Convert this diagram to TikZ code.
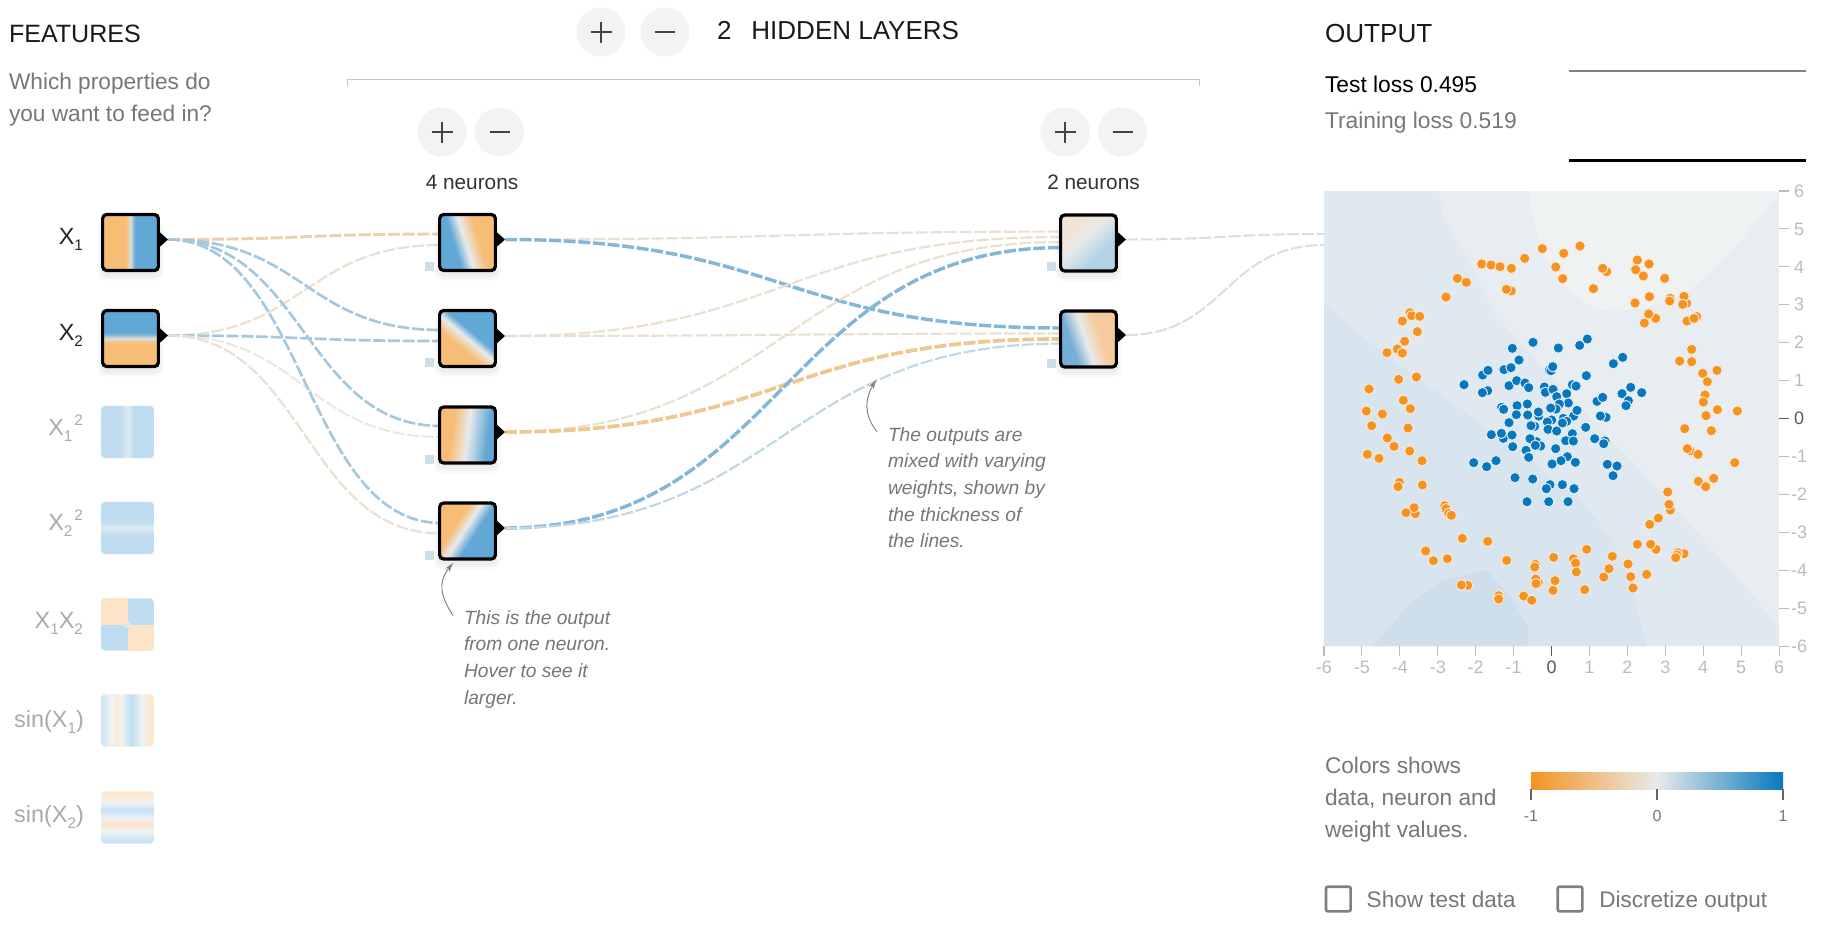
\documentclass[tikz,border=0pt]{standalone}
\usepackage{fontspec}
\setmainfont{Liberation Sans}
\usetikzlibrary{arrows.meta,calc,shapes.geometric}
\definecolor{no}{HTML}{F7BD76}
\definecolor{nb}{HTML}{62A8D6}
\definecolor{np}{HTML}{E8EAEB}
\definecolor{npx}{HTML}{DCDDD8}
\definecolor{fb}{HTML}{C0DCF0}
\definecolor{fp}{HTML}{DFEAF1}
\definecolor{fo}{HTML}{FDE3C7}
\definecolor{fw}{HTML}{EEF3F5}
\definecolor{la}{HTML}{F1E3D5}
\definecolor{lb}{HTML}{B3D2E6}
\definecolor{lc}{HTML}{75AED7}
\definecolor{ld}{HTML}{F6CB9C}
\definecolor{dotO}{HTML}{F59322}
\definecolor{dotB}{HTML}{0877BD}
\definecolor{txtg}{HTML}{777777}
\definecolor{fade}{HTML}{AAAAAA}
\definecolor{tick}{HTML}{BBBBBB}
\definecolor{btn}{HTML}{F3F3F3}
\definecolor{icon}{HTML}{444444}
\definecolor{wTan}{HTML}{EBDFD0}
\definecolor{wPale}{HTML}{E9E6E0}
\definecolor{wOrange}{HTML}{EECFAB}
\definecolor{wOrangeB}{HTML}{EEC791}
\definecolor{wBlue}{HTML}{A4C8E0}
\definecolor{wBlueB}{HTML}{84B6D8}
\definecolor{wSky}{HTML}{C0D7E6}
\definecolor{wMist}{HTML}{D2E0EA}
\definecolor{sq}{HTML}{CFDDE7}
\definecolor{pbase}{HTML}{E8EDF1}
\definecolor{ptop}{HTML}{EFF2F3}
\definecolor{pb}{HTML}{E0E9EF}
\definecolor{pa}{HTML}{D8E5EF}
\definecolor{pc}{HTML}{CEDFEB}
\pgfdeclarehorizontalshading{sxa}{100bp}{color(0bp)=(no);color(45.5bp)=(no);color(50bp)=(npx);color(54bp)=(nb);color(100bp)=(nb)}
\pgfdeclarehorizontalshading{sxb}{100bp}{color(0bp)=(no);color(46bp)=(no);color(50bp)=(npx);color(55bp)=(nb);color(100bp)=(nb)}
\pgfdeclarehorizontalshading{sha}{100bp}{color(0bp)=(nb);color(38bp)=(nb);color(48bp)=(np);color(60bp)=(no);color(100bp)=(no)}
\pgfdeclarehorizontalshading{shb}{100bp}{color(0bp)=(no);color(40bp)=(no);color(50bp)=(np);color(57bp)=(nb);color(100bp)=(nb)}
\pgfdeclarehorizontalshading{shc}{100bp}{color(0bp)=(no);color(36bp)=(no);color(50bp)=(np);color(68bp)=(nb);color(100bp)=(nb)}
\pgfdeclarehorizontalshading{shd}{100bp}{color(0bp)=(no);color(38bp)=(no);color(47bp)=(np);color(57bp)=(nb);color(100bp)=(nb)}
\pgfdeclarehorizontalshading{sla}{100bp}{color(0bp)=(la);color(32bp)=(la);color(44bp)=(np);color(64bp)=(lb);color(100bp)=(lb)}
\pgfdeclarehorizontalshading{slb}{100bp}{color(0bp)=(lc);color(34bp)=(lc);color(47bp)=(np);color(60bp)=(ld);color(100bp)=(ld)}
\pgfdeclarehorizontalshading{ssq}{100bp}{color(0bp)=(fb);color(43.5bp)=(fb);color(50bp)=(fp);color(56bp)=(fb);color(100bp)=(fb)}
\pgfdeclarehorizontalshading{ssa}{100bp}{color(0bp)=(fb!80!white);color(25bp)=(fb!80!white);color(35bp)=(fw);color(40bp)=(fo!80!white);color(44.5bp)=(fw);color(54bp)=(fb);color(63.6bp)=(fw);color(70.8bp)=(fo!85!white);color(100bp)=(fo!85!white)}
\pgfdeclarehorizontalshading{ssb}{100bp}{color(0bp)=(fb!80!white);color(29bp)=(fb!80!white);color(37bp)=(fw);color(44.5bp)=(fo);color(49bp)=(fw);color(57bp)=(fb!90!white);color(64bp)=(fw);color(71.5bp)=(fo!85!white);color(100bp)=(fo!85!white)}
\pgfdeclarehorizontalshading{slegend}{100bp}{color(0bp)=(dotO);color(25bp)=(dotO);color(50bp)=(np);color(75bp)=(dotB);color(100bp)=(dotB)}
\newcommand\lnk[3]{\draw[linkline,#1] let \p1=(#2),\p2=(#3),\n1={0.5*\x1+0.5*\x2} in (\p1) .. controls (\n1,\y1) and (\n1,\y2) .. (\p2);}
\newcommand\subn[1]{\raisebox{-4.5pt}{\fontsize{11.5pt}{12pt}\selectfont #1}}
\newcommand\supn[1]{\raisebox{7.5pt}{\fontsize{11.5pt}{12pt}\selectfont #1}}
\newcommand\sqport[2]{\fill[sq] (#1-4.5,#2-4.5) rectangle ++(9,9);}
\newcommand\tip[1]{\fill[black] (#1) -- ++(-9,-8) -- ++(0,16) -- cycle;}
\newcommand\pmbtn[4]{%
  \node[roundbtn] (#1p) at (#2,#3) {};
  \node[roundbtn] (#1m) at (#2+#4,#3) {};
  \draw[iconline] ($(#1p)+(-10.5,0)$) -- ($(#1p)+(10.5,0)$);
  \draw[iconline] ($(#1p)+(0,-10.5)$) -- ($(#1p)+(0,10.5)$);
  \draw[iconline] ($(#1m)+(-10,0)$) -- ($(#1m)+(10,0)$);}
\pgfdeclarelayer{links}
\pgfsetlayers{links,main}
\tikzset{
  every node/.style={inner sep=0pt,outer sep=0pt},
  hugetxt/.style={font=\fontsize{18.8pt}{22pt}\selectfont,text=black!90},
  greytxt/.style={font=\fontsize{17pt}{24pt}\selectfont,text=txtg,align=left},
  neurtxt/.style={font=\fontsize{15.6pt}{18pt}\selectfont,text=black!80},
  notetxt/.style={font=\fontsize{14.4pt}{20pt}\itshape\selectfont,text=txtg,align=left},
  losstxt/.style={font=\fontsize{17.1pt}{20pt}\selectfont},
  rowlab/.style={font=\fontsize{17.6pt}{20pt}\selectfont,text=black!85,anchor=mid east},
  rowfade/.style={rowlab,text=fade},
  axistxt/.style={font=\fontsize{13.5pt}{15pt}\selectfont,text=tick},
  legendtxt/.style={font=\fontsize{12pt}{14pt}\selectfont,text=txtg},
  checktxt/.style={font=\fontsize{16.9pt}{20pt}\selectfont,text=txtg,anchor=mid west},
  roundbtn/.style={circle,fill=btn,minimum size=36.8pt},
  iconline/.style={draw=icon,line width=2pt},
  neuronbox/.style={rectangle,draw=black,line width=2.4pt,rounded corners=3pt,minimum width=41.8pt,minimum height=42pt},
  fadebox/.style={rectangle,rounded corners=3pt,minimum width=39.6pt,minimum height=39.2pt},
  linkline/.style={dash pattern=on 9pt off 2pt},
  wt/.style={draw=wTan,line width=1.6pt},
  wp/.style={draw=wPale,line width=1.4pt},
  wo/.style={draw=wOrange,line width=2.2pt},
  wob/.style={draw=wOrangeB,line width=2.8pt},
  wb/.style={draw=wBlue,line width=2pt},
  wbb/.style={draw=wBlueB,line width=2.6pt},
  ws/.style={draw=wSky,line width=1.6pt},
  wm/.style={draw=wMist,line width=1.5pt},
  noteline/.style={draw=black!50,line width=0.7pt,-{Stealth[length=7pt,width=4pt]}},
  rule/.style={draw=black!22,line width=0.7pt},
  dotor/.style={fill=dotO,draw=white!80!dotO,line width=0.7pt},
  dotbl/.style={fill=dotB,draw=white!88!dotB,line width=0.7pt},
  checkbox/.style={rectangle,draw=black!50,line width=2pt,rounded corners=1.5pt,minimum size=18.5pt},
}
\begin{document}
\begin{tikzpicture}[x=0.75pt,y=-0.75pt]
\useasboundingbox (0,0) rectangle (1826,929);
\begin{pgfonlayer}{links}
\fill[white] (0,0) rectangle (1826,929);
\end{pgfonlayer}
% headers
\node[hugetxt,anchor=mid west] (featT) at (9,38.5) {FEATURES};
\node[greytxt,anchor=north west] (featS) at (9,73.5) {Which properties do\\you want to feed in?};
\pmbtn{lay}{601}{32}{64}
\node[hugetxt,font=\fontsize{19.5pt}{22pt}\selectfont,anchor=mid west] (hlT) at (717,36) {2\hspace{15pt}HIDDEN LAYERS};
\draw[rule] (347,86) -- (347,79) -- (1199,79) -- (1199,86);
\pmbtn{a}{442}{132}{57.5}
\pmbtn{b}{1065}{132}{57.5}
\node[neurtxt] (na) at (472,182) {4 neurons};
\node[neurtxt] (nb) at (1093.5,182) {2 neurons};
% shadows
\foreach \cx/\cy in {130.5/242.5,130.5/338.5,467.5/242.5,467.5/338.5,467.5/435,467.5/531,1088.5/243,1088.5/339}{
  \foreach \g in {6,4,2}{
    \fill[black,opacity=0.025,rounded corners=5pt] (\cx-27-\g,\cy-20) rectangle (\cx+27+\g,\cy+32+\g);
  }
}
% input nodes
\node[neuronbox,shading=sxa] (X1) at (130.5,242.5) {};
\node[neuronbox,shading=sxb,shading angle=90] (X2) at (130.5,338.5) {};
\node[fadebox,shading=ssq] (XA) at (127.5,432) {};
\node[fadebox,shading=ssq,shading angle=90] (XB) at (127.5,528) {};
\node[fadebox,fill=fb] (XC) at (127.5,624.5) {};
\begin{scope}
  \clip[rounded corners=3pt] (101,598) rectangle (154,651);
  \fill[fo] (101,598) rectangle (127.5,624.5);
  \fill[fo] (127.5,624.5) rectangle (154,651);
  \fill[fp,opacity=.8] (127.5,624.5) circle[radius=4];
\end{scope}
\node[fadebox,shading=ssa] (XD) at (127.5,720.5) {};
\node[fadebox,shading=ssb,shading angle=90] (XE) at (127.5,817.5) {};
% hidden nodes
\node[neuronbox,shading=sha,shading angle=17] (h1) at (467.5,242.5) {};
\node[neuronbox,shading=shb,shading angle=50] (h2) at (467.5,338.5) {};
\node[neuronbox,shading=shc,shading angle=-7] (h3) at (467.5,435) {};
\node[neuronbox,shading=shd,shading angle=-33] (h4) at (467.5,531) {};
\node[neuronbox,shading=sla,shading angle=-47] (ka) at (1088.5,243) {};
\node[neuronbox,shading=slb,shading angle=19] (kb) at (1088.5,339) {};
% ports
\coordinate (X1o) at (168,239.5);
\coordinate (X2o) at (168,335.5);
\coordinate (h1o) at (505,239.5);
\coordinate (h2o) at (505,336);
\coordinate (h3o) at (505,432);
\coordinate (h4o) at (505,528);
\coordinate (kao) at (1126,239.5);
\coordinate (kbo) at (1126,335);
\tip{X1o}\tip{X2o}\tip{h1o}\tip{h2o}\tip{h3o}\tip{h4o}\tip{kao}\tip{kbo}
\coordinate (h1a) at (441,234);\coordinate (h1b) at (441,245);
\coordinate (h2a) at (441,330);\coordinate (h2b) at (441,341);
\coordinate (h3a) at (441,426);\coordinate (h3b) at (441,437);
\coordinate (h4a) at (441,523);\coordinate (h4b) at (441,533.5);
\coordinate (kaa) at (1061,231.6);\coordinate (kab) at (1061,237);\coordinate (kac) at (1061,242);\coordinate (kad) at (1061,247.6);
\coordinate (kba) at (1061,328);\coordinate (kbb) at (1061,333.5);\coordinate (kbc) at (1061,339);\coordinate (kbd) at (1061,343.6);
\coordinate (outa) at (1324,234);\coordinate (outb) at (1324,245);
\begin{pgfonlayer}{links}
\lnk{wo}{X1o}{h1a}
\lnk{wt}{X2o}{h1b}
\lnk{wb}{X1o}{h2a}
\lnk{wb}{X2o}{h2b}
\lnk{wb}{X1o}{h3a}
\lnk{wp}{X2o}{h3b}
\lnk{wb}{X1o}{h4a}
\lnk{wt}{X2o}{h4b}
\lnk{wt}{h1o}{kaa}
\lnk{wbb}{h1o}{kba}
\lnk{wt}{h2o}{kab}
\lnk{wt}{h2o}{kbb}
\lnk{wt}{h3o}{kac}
\lnk{wob}{h3o}{kbc}
\lnk{wbb}{h4o}{kad}
\lnk{ws}{h4o}{kbd}
\lnk{wm}{kao}{outa}
\lnk{wm}{kbo}{outb}
\end{pgfonlayer}
% bias squares
\sqport{429.5}{266.5}\sqport{429.5}{362.5}\sqport{429.5}{459}\sqport{429.5}{555}
\sqport{1051}{266.5}\sqport{1051}{363}
% row labels
\node[rowlab] (lX1) at (83,240.5) {X\subn{1}};
\node[rowlab] (lX2) at (83,337) {X\subn{2}};
\node[rowfade] (lXA) at (83,432) {X\subn{1}\hspace{1.5pt}\supn{2}};
\node[rowfade] (lXB) at (83,527) {X\subn{2}\hspace{1.5pt}\supn{2}};
\node[rowfade] (lXC) at (83,625) {X\subn{1}X\subn{2}};
\node[rowfade] (lXD) at (84,723.5) {sin(X\subn{1})};
\node[rowfade] (lXE) at (84,818.5) {sin(X\subn{2})};
% notes
\node[notetxt,anchor=north west] (noteA) at (464,610.3) {This is the output\\from one neuron.\\Hover to see it\\larger.};
\coordinate (nAs) at (453,615.5);
\coordinate (nAt) at (453,563);
\draw[noteline] (nAs) .. controls (441,597) and (437,583) .. (nAt);
\node[notetxt,anchor=north west] (noteB) at (888,427.3) {The outputs are\\mixed with varying\\weights, shown by\\the thickness of\\the lines.};
\coordinate (nBs) at (877,431.6);
\coordinate (nBt) at (876,380);
\draw[noteline] (nBs) .. controls (866,418) and (863,402) .. (nBt);
% output
\node[hugetxt,font=\fontsize{19.6pt}{22pt}\selectfont,anchor=mid west] (outT) at (1325,38.5) {OUTPUT};
\node[losstxt,text=black,anchor=mid west] (tl) at (1325,89) {Test loss 0.495};
\node[losstxt,text=txtg,anchor=mid west] (trl) at (1325,124.5) {Training loss 0.519};
\draw[draw=black!50,line width=1.9pt] (1568.5,71) -- (1806,71);
\draw[draw=black,line width=1.9pt] (1568.5,160.5) -- (1806,160.5);
% plot
\node[rectangle,fill=pbase,minimum width=341.25pt,minimum height=341.25pt] (plot) at (1551.5,418.5) {};
\begin{scope}[x=0.25pt,y=-0.25pt,xshift=982.5pt]
  \clip (42,573) rectangle (1407,1938);
  \fill[ptop] (655,573) .. controls (670,720) and (720,820) .. (790,880) .. controls (850,950) and (980,950) .. (1120,880) .. controls (1200,830) and (1300,720) .. (1407,580) -- (1407,573) -- cycle;
  \fill[pb] (42,573) -- (385,573) -- (400,650) -- (470,770) -- (560,950) -- (760,1170) -- (1000,1420) -- (1200,1640) -- (1407,1880) -- (1407,1938) -- (42,1938) -- cycle;
  \fill[pa] (42,910) -- (170,1020) -- (400,1190) -- (620,1350) -- (810,1500) -- (900,1610) -- (960,1740) -- (1010,1938) -- (42,1938) -- cycle;
  \fill[pc] (190,1938) -- (300,1810) -- (400,1740) -- (530,1710) -- (600,1790) -- (655,1880) -- (655,1938) -- cycle;
\end{scope}
\begin{scope}[x=0.25pt,y=-0.25pt,xshift=982.5pt]
  \foreach \p in {(890,815),(604,873),(1080,895),(1130,910),(1160,950),(300,938),(515,792),(543,795),(570,800),(604,805),(644,775),(697,746),(761,760),(810,738),(737,801),(758,836),(878,805),(850,866),(982,780),(1017,792),(977,809),(1000,828),(1064,835),(442,835),(469,847),(408,891),(589,868),(975,909),(1018,890),(1122,889),(1079,903),(1118,913),(1037,955),(1016,942),(1003,969),(1131,963),(1152,955),(305,947),(329,949),(277,963),(322,995),(284,1024),(262,1047),(231,1058),(277,1059)}
    \filldraw[dotor] \p circle[radius=3.9pt];
\end{scope}
\begin{scope}[x=0.25pt,y=-0.25pt,xshift=982.5pt,yshift=-255pt]
  \foreach \p in {(1145,28),(1109,63),(1145,65),(1178,100),(1221,91),(1192,125),(1185,165),(1180,186),(1222,209),(1282,213),(1188,227),(1124,266),(1204,272),(1140,332),(1132,326),(1164,343),(1274,368),(1165,424),(1211,415),(1187,440),(1073,456),(1081,510),(1077,493),(1045,534),(1019,553),(982,613),(1038,628),(1022,613),(1122,641),(1103,638),(1100,645),(1097,653),(830,628),(907,649),(954,672),(1010,703),(881,711),(897,686),(962,710),(969,744),(790,656),(797,669),(799,696),(824,749),(731,652),(735,722),(729,751),(676,673),(674,681),(685,728),(677,717),(678,731),(641,768),(665,781),(566,767),(566,777),(590,661),(533,604),(457,595),(473,736),(454,735),(412,656),(370,662),(347,633),(404,497),(408,506),(416,520),(424,526),(316,521),(312,503),(288,518),(268,427),(264,440),(337,435),(336,362),(207,358),(207,355),(172,343),(299,333),(252,319),(232,294),(294,264),(185,257),(217,222),(169,213),(301,206),(280,181),(177,147),(266,118),(319,111)}
    \filldraw[dotor] \p circle[radius=3.9pt];
  \foreach \p in {(607,25),(669,7),(745,24),(809,16),(832,-3),(938,52),(910,71),(627,60),(518,105),(534,91),(582,89),(603,83),(718,90),(723,92),(728,80),(829,107),(462,134),(533,152),(517,158),(597,137),(620,122),(645,129),(656,143),(703,141),(706,157),(729,148),(787,134),(798,138),(740,170),(770,161),(962,142),(936,161),(995,158),(955,182),(948,197),(861,184),(878,172),(775,189),(748,192),(575,202),(581,208),(621,197),(652,192),(738,207),(722,204),(686,228),(685,216),(619,224),(653,225),(791,228),(801,211),(760,235),(888,232),(871,228),(770,244),(757,249),(725,240),(712,246),(597,248),(674,259),(663,257),(827,262),(714,268),(740,273),(544,284),(580,295),(574,280),(606,285),(787,281),(680,305),(660,296),(767,302),(790,303),(854,296),(885,303),(881,311),(692,318),(676,316),(608,320),(648,331),(737,326),(656,352),(772,350),(558,362),(753,362),(491,368),(530,380),(726,372),(796,367),(892,373),(921,378),(909,407),(615,413),(668,417),(720,434),(757,434),(709,446),(792,446),(651,485),(716,485),(774,485)}
    \filldraw[dotbl] \p circle[radius=3.9pt];
\end{scope}
% axes
\foreach \v in {-6,...,6}{
  \pgfmathsetmacro{\px}{1551.5+37.92*\v}
  \pgfmathsetmacro{\py}{418.5-37.92*\v}
  \ifnum\v=0\def\tc{black!65}\else\def\tc{tick}\fi
  \draw[draw=\tc,line width=0.8pt] (1779,\py) -- (1789,\py);
  \draw[draw=\tc,line width=0.8pt] (\px,646) -- (\px,655.5);
  \node[axistxt,text=\tc] (ry\v) at (1799,\py) {\v};
  \node[axistxt,text=\tc] (bx\v) at (\px,667.5) {\v};
}
% legend
\node[greytxt,anchor=north west] (legT) at (1325,756.7) {Colors shows\\data, neuron and\\weight values.};
\node[rectangle,shading=slegend,minimum width=189pt,minimum height=13pt] (lg) at (1657,780.7) {};
\foreach \lx/\ll in {1531/-1,1657/0,1783/1}{
  \draw[draw=black!60,line width=1.1pt] (\lx,789) -- (\lx,800);
  \node[legendtxt] (lg\ll) at (\lx,816) {\ll};
}
\node[checkbox] (cA) at (1338.3,899) {};
\node[checktxt] (cAt) at (1366.7,903.5) {Show test data};
\node[checkbox] (cB) at (1570,899) {};
\node[checktxt] (cBt) at (1599.3,903.5) {Discretize output};
\end{tikzpicture}
\end{document}
